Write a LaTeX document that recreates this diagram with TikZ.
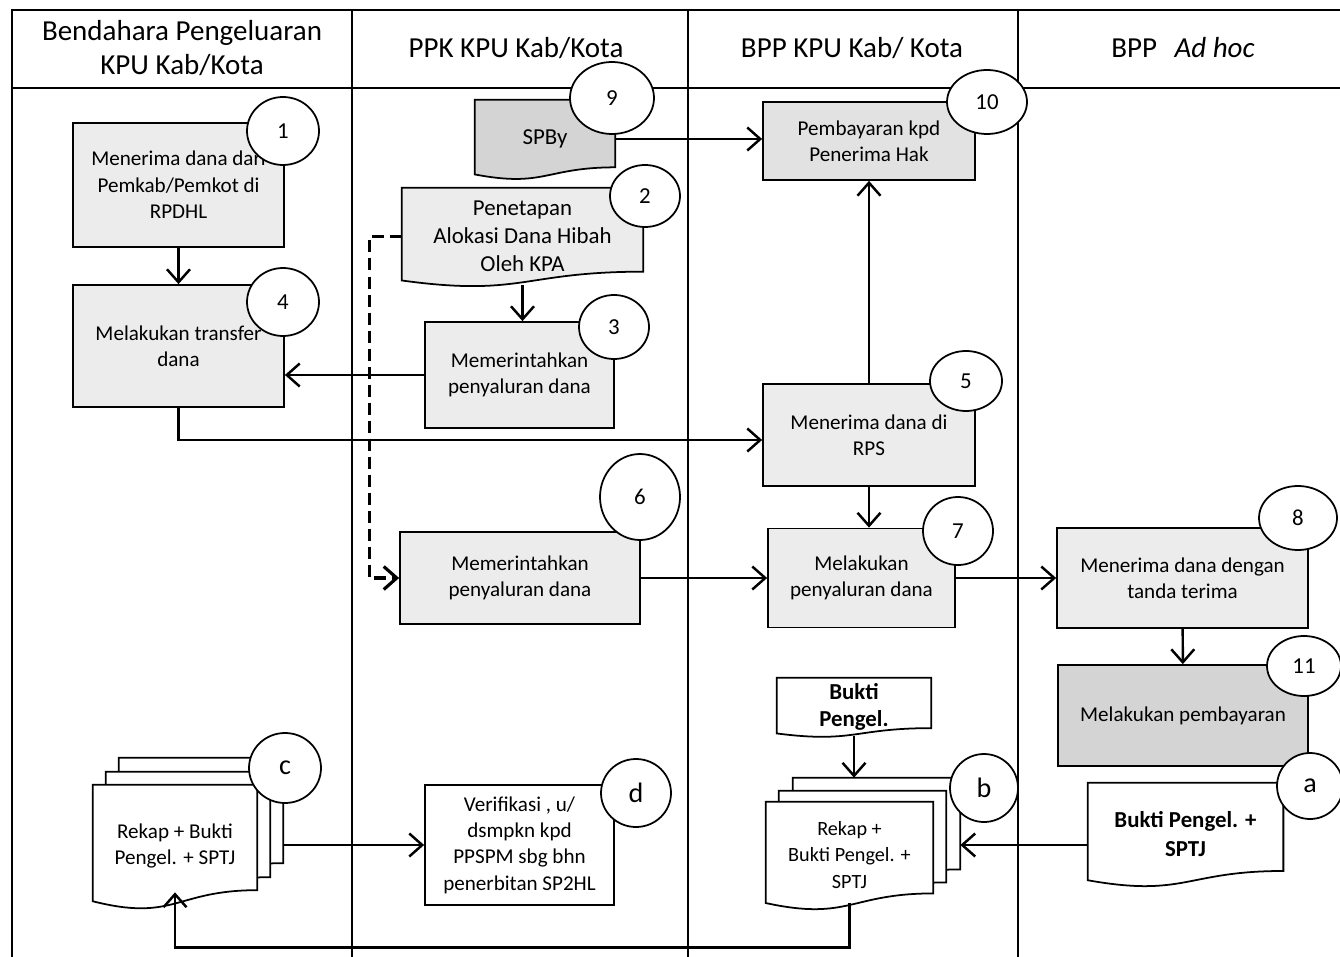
\documentclass[tikz,border=0pt]{standalone}
\usepackage{fontspec}
\setmainfont{Carlito}
\usetikzlibrary{shapes.geometric,arrows.meta,calc,backgrounds}
\definecolor{lite}{RGB}{236,236,236}
\definecolor{midgray}{RGB}{226,226,226}
\definecolor{dark}{RGB}{212,212,212}
\newcommand{\boxfont}{\fontsize{12}{15}\selectfont}
\newcommand{\docpath}[4]{
    \draw[line width=1pt, fill=#2] ($(#1.north west)+(#3,#4)$) -- ($(#1.north east)+(#3,#4)$)
      -- ($(#1.north east)!0.86!(#1.south east)+(#3,#4)$)
      .. controls ($(#1.north)!0.86!(#1.south)+(#3,#4)$) and ($(#1.north)!1.12!(#1.south)+(#3,#4)$)
      .. ($(#1.north west)!0.95!(#1.south west)+(#3,#4)$) -- cycle;
}
\tikzset{
  head/.style={align=center, font=\fontsize{16.5}{19}\selectfont},
  proc/.style={draw, line width=1pt, fill=lite, align=center, inner sep=1pt, font=\boxfont},
  docnode/.style={align=center, inner sep=1pt, font=\boxfont},
  num/.style={draw, ellipse, fill=white, line width=1pt, inner sep=0pt, font=\fontsize{13}{15}\selectfont},
  arr/.style={line width=1.4pt, -{Straight Barb[length=2.6mm,width=4.6mm]}},
  dashline/.style={line width=1.8pt, dash pattern=on 2.4mm off 1.2mm, -{Straight Barb[length=2.6mm,width=4.6mm]}}
}

\begin{document}
\begin{tikzpicture}[x=0.2mm,y=-0.2mm]
\useasboundingbox (0,0) rectangle (1340,957);
\draw[line width=1pt] (12,957) -- (12,10) -- (1340,10);
\draw[line width=1pt] (12,88) -- (1340,88);
\foreach \x in {352,688,1018}{
  \draw[line width=1pt] (\x,10) -- (\x,957);
}
\node[head] (h1) at (182,48) {Bendahara Pengeluaran\\KPU Kab/Kota};
\node[head] (h2) at (516,48) {PPK KPU Kab/Kota};
\node[head] (h3) at (852,48) {BPP KPU Kab/ Kota};
\node[head] (h4) at (1183,48) {BPP\hspace{0.6em}\textit{Ad hoc}};

\node[proc, minimum width=42.2mm, minimum height=24.8mm] (terima) at (178.5,185) {Menerima dana dari\\Pemkab/Pemkot di\\RPDHL};
\node[proc, minimum width=42.2mm, minimum height=24.4mm] (transfer) at (178.5,346) {Melakukan transfer\\dana};
\node[docnode, font=\fontsize{13}{15}\selectfont, minimum width=28mm, minimum height=15.6mm] (spby) at (545,139) {SPBy};
\node[docnode, font=\fontsize{13}{16}\selectfont, minimum width=48.2mm, minimum height=19.4mm] (tetap) at (522.5,236.5) {Penetapan\\Alokasi Dana Hibah\\Oleh KPA};
\node[proc, minimum width=37.8mm, minimum height=21.2mm] (perintah1) at (519.5,375) {Memerintahkan\\penyaluran dana};
\node[proc, minimum width=48mm, minimum height=18.4mm] (perintah2) at (520,578) {Memerintahkan\\penyaluran dana};
\node[proc, fill=midgray, minimum width=42.4mm, minimum height=15.6mm] (bayar) at (869,141) {Pembayaran kpd\\Penerima Hak};
\node[proc, minimum width=42.4mm, minimum height=20.4mm] (rps) at (869,435) {Menerima dana di\\RPS};
\node[proc, minimum width=37.4mm, minimum height=19.8mm] (salur) at (861.5,578) {Melakukan\\penyaluran dana};
\node[proc, minimum width=50.2mm, minimum height=20mm] (tandaterima) at (1182.5,578) {Menerima dana dengan\\tanda terima};
\node[proc, fill=dark, minimum width=50mm, minimum height=20.2mm] (pembayaran) at (1183,715.5) {Melakukan pembayaran};
\node[docnode, font=\fontsize{13}{16}\selectfont\bfseries, minimum width=39mm, minimum height=20.4mm] (buktia) at (1185.5,834) {Bukti Pengel. +\\SPTJ};
\node[docnode, font=\fontsize{13}{15}\selectfont\bfseries, minimum width=30.8mm, minimum height=11.6mm] (bukti) at (854,707) {Bukti\\Pengel.};
\node[docnode, font=\fontsize{11.5}{15}\selectfont, minimum width=33.4mm, minimum height=21.2mm] (rekapb) at (849.5,855) {Rekap +\\Bukti Pengel. +\\SPTJ};
\node[docnode, minimum width=32.8mm, minimum height=24.4mm] (rekapc) at (175,846) {Rekap + Bukti\\Pengel. + SPTJ};
\node[proc, fill=white, minimum width=37.8mm, minimum height=24mm] (verif) at (519.5,845) {Verifikasi , u/\\dsmpkn kpd\\PPSPM sbg bhn\\penerbitan SP2HL};

\coordinate (bback) at ($(rekapb.north east)+(27,-24)$);
\coordinate (cback) at ($(rekapc.north east)+(26,-27)$);

\begin{scope}[on background layer]
\docpath{spby}{dark}{0}{0}
\docpath{tetap}{lite}{0}{0}
\docpath{buktia}{white}{0}{0}
\docpath{bukti}{white}{0}{0}
\docpath{rekapb}{white}{27}{-24}
\docpath{rekapb}{white}{13}{-11}
\docpath{rekapb}{white}{0}{0}
\docpath{rekapc}{white}{26}{-27}
\docpath{rekapc}{white}{13}{-13}
\docpath{rekapc}{white}{0}{0}
\end{scope}

\draw[arr] (terima) -- (transfer);
\draw[arr] (perintah1.west) -- (perintah1.west -| transfer.east);
\draw[arr] (transfer.south) |- ([yshift=-1mm]rps.west);
\draw[arr] (spby.east) -- (spby.east -| bayar.west);
\draw[arr] (tetap.south) -- (tetap.south |- perintah1.north);
\draw[dashline] (tetap.west) -- ++(-32,0) |- (perintah2.west);
\draw[arr] (rps) -- (bayar);
\draw[arr] (rps.south) -- (rps.south |- salur.north);
\draw[arr] (perintah2.east) -- (perintah2.east -| salur.west);
\draw[arr] (salur.east) -- (salur.east -| tandaterima.west);
\draw[arr] (tandaterima) -- (pembayaran);
\draw[arr] (bukti.south) -- (bukti.south |- bback);
\draw[arr] ([yshift=-2.2mm]buktia.west) -- ([yshift=-2.2mm]buktia.west -| bback);
\draw[arr] (verif.west -| cback) -- (verif.west);
\draw[arr] ([yshift=1mm]rekapb.south) -- ++(0,44) -| ([yshift=3mm]rekapc.south);

\foreach \n/\pos/\lab/\w/\h in {n1/{(283,131)}/1/14.4/13.6, n4/{(283,302)}/4/14.4/13.6,
    n9/{(612,98)}/9/16.8/14.4, n2/{(645,196)}/2/14/12.4, n3/{(614,327)}/3/14/12.8,
    n6/{(640,497)}/6/16/17.2, n10/{(987,102)}/10/16/12.8, n5/{(966,381)}/5/14.4/12,
    n7/{(958,531)}/7/14/13.6, n8/{(1298,518)}/8/15.6/12.8, n11/{(1304,666)}/11/14.8/12}{
  \node[num, minimum width=\w mm, minimum height=\h mm] (\n) at \pos {\lab};
}
\foreach \n/\pos/\lab/\w/\h in {na/{(1310,786)}/a/13.2/13.2, nb/{(984,788)}/b/13.6/13.6,
    nc/{(285,768)}/c/14.4/14, nd/{(636,793)}/d/14/13.6}{
  \node[num, font=\fontsize{16}{18}\selectfont, minimum width=\w mm, minimum height=\h mm] (\n) at \pos {\lab};
}
\end{tikzpicture}
\end{document}
